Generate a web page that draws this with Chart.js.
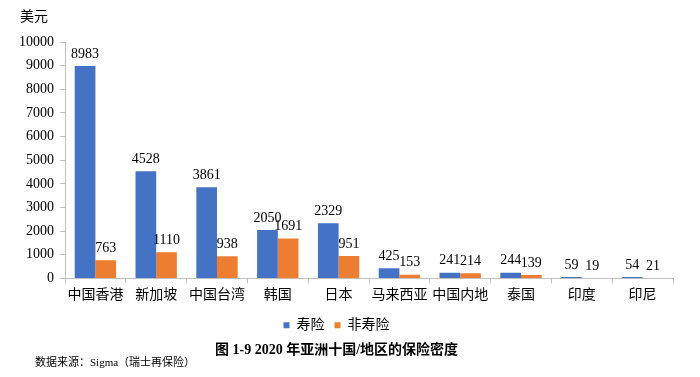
<!DOCTYPE html>
<html>
<head>
<meta charset="utf-8">
<script src="https://cdn.jsdelivr.net/npm/chart.js@4"></script>
<style>
  html, body { margin: 0; padding: 0; background: #fff; }
  #wrap { width: 700px; height: 377px; }
</style>
</head>
<body>
<div id="wrap"><canvas id="insDensity"></canvas></div>
<script>
var categories = ['中国香港', '新加坡', '中国台湾', '韩国', '日本', '马来西亚', '中国内地', '泰国', '印度', '印尼'];
var lifeValues = [8983, 4528, 3861, 2050, 2329, 425, 241, 244, 59, 54];
var nonLifeValues = [763, 1110, 938, 1691, 951, 153, 214, 139, 19, 21];
var yTicks = [0, 1000, 2000, 3000, 4000, 5000, 6000, 7000, 8000, 9000, 10000];

var serif = '"Liberation Serif", "Noto Sans CJK SC", serif';

// value labels above each bar, unit and source text
var valueLabels = {
  id: 'valueLabels',
  afterDatasetsDraw: function (chart) {
    var c = chart.ctx;
    c.save();
    c.fillStyle = '#000';
    c.font = '14px ' + serif;
    c.textAlign = 'center';
    c.textBaseline = 'bottom';
    chart.data.datasets.forEach(function (ds, i) {
      chart.getDatasetMeta(i).data.forEach(function (bar, j) {
        c.fillText(ds.data[j], bar.x, bar.y - 5);
      });
    });
    c.textAlign = 'left';
    c.textBaseline = 'middle';
    c.fillText('美元', 20, 17);
    c.font = '11px ' + serif;
    c.fillText('数据来源：Sigma（瑞士再保险）', 35, 363);
    c.restore();
  }
};

var ctx = document.getElementById('insDensity');
var insDensity = new Chart(ctx, {
  type: 'bar',
  data: {
    labels: categories,
    datasets: [{
      label: '寿险',
      data: lifeValues,
      backgroundColor: '#4472C4',
      barPercentage: 1,
      categoryPercentage: 0.68
    }, {
      label: '非寿险',
      data: nonLifeValues,
      backgroundColor: '#ED7D31',
      barPercentage: 1,
      categoryPercentage: 0.68
    }]
  },
  options: {
    responsive: true,
    maintainAspectRatio: false,
    animation: false,
    layout: { padding: { top: 42, right: 27, left: 0, bottom: 18 } },
    scales: {
      x: {
        grid: { drawOnChartArea: false, offset: true, tickLength: 5, color: '#bfbfbf' },
        border: { color: '#bfbfbf' },
        ticks: { color: '#000', font: { family: serif, size: 14 }, maxRotation: 0, autoSkip: false, padding: 4 }
      },
      y: {
        min: 0,
        max: 10000,
        afterBuildTicks: function (scale) {
          scale.ticks = yTicks.map(function (v) { return { value: v }; });
        },
        afterFit: function (scale) { scale.width = 65; },
        grid: { drawOnChartArea: false, tickLength: 5, color: '#bfbfbf' },
        border: { color: '#bfbfbf' },
        ticks: {
          color: '#000',
          font: { family: serif, size: 14 },
          padding: 6,
          callback: function (v) { return String(v); }
        }
      }
    },
    plugins: {
      legend: {
        position: 'bottom',
        labels: {
          color: '#000',
          boxWidth: 6,
          boxHeight: 6,
          padding: 10,
          font: { family: serif, size: 14 }
        }
      },
      title: {
        display: true,
        position: 'bottom',
        text: '图 1-9 2020 年亚洲十国/地区的保险密度',
        color: '#000',
        font: { family: serif, size: 14, weight: 'bold' },
        padding: { top: 0, bottom: 0 }
      },
      tooltip: { enabled: false }
    }
  },
  plugins: [valueLabels]
});
</script>
</body>
</html>
